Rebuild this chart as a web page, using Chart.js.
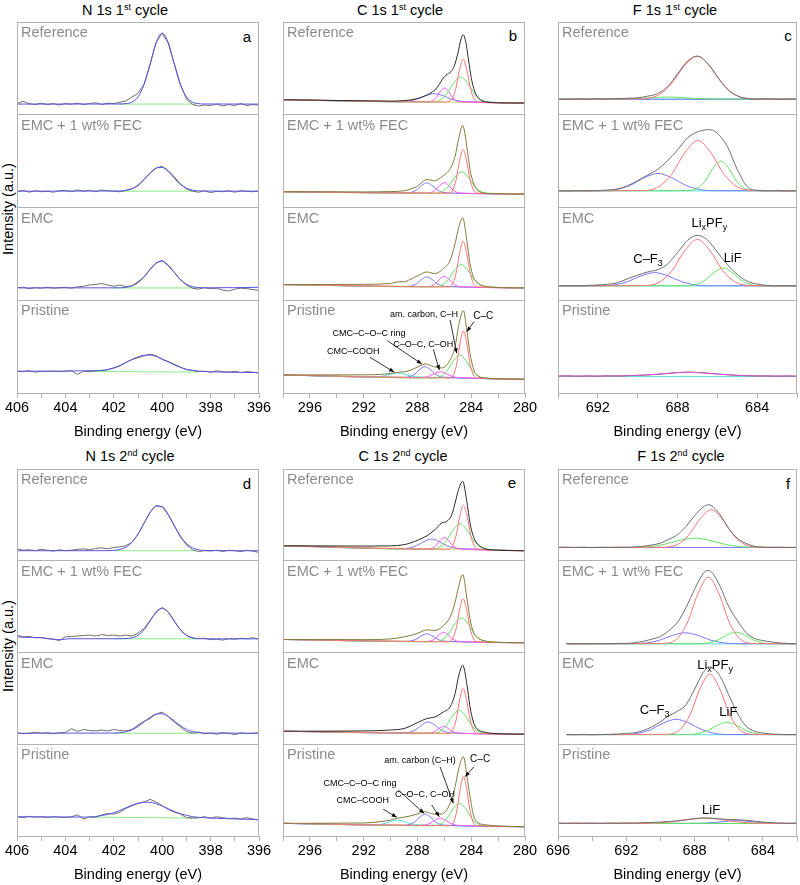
<!DOCTYPE html>
<html>
<head>
<meta charset="utf-8">
<script src="https://cdn.jsdelivr.net/npm/chart.js@4.4.0/dist/chart.umd.min.js"></script>
<style>
  html, body { margin: 0; background: #fff; overflow: hidden; }
  #fig { position: relative; width: 800px; height: 885px; overflow: hidden; font-family: "Liberation Sans", Arial, sans-serif; }
  .box { position: absolute; }
  .ttl { position: absolute; font-size: 14.5px; line-height: 17px; transform: translateX(-50%); white-space: nowrap; }
  .ttl sup { font-size: 0.62em; vertical-align: 0.55em; line-height: 0; }
  .let { position: absolute; font-size: 15px; line-height: 17px; transform: translate(-50%, -50%); }
  .ylab { position: absolute; font-size: 14.5px; transform: translate(-50%, -50%) rotate(-90deg); white-space: nowrap; }
</style>
</head>
<body>
<div id="fig">
  <div class="ttl" style="left:125px;top:2px">N 1s 1<sup>st</sup> cycle</div>
  <div class="ttl" style="left:400px;top:2px">C 1s 1<sup>st</sup> cycle</div>
  <div class="ttl" style="left:675px;top:2px">F 1s 1<sup>st</sup> cycle</div>
  <div class="ttl" style="left:130px;top:448px">N 1s 2<sup>nd</sup> cycle</div>
  <div class="ttl" style="left:403px;top:448px">C 1s 2<sup>nd</sup> cycle</div>
  <div class="ttl" style="left:681px;top:448px">F 1s 2<sup>nd</sup> cycle</div>
  <div class="let" style="left:247px;top:36px">a</div>
  <div class="let" style="left:513px;top:35px">b</div>
  <div class="let" style="left:788px;top:35px">c</div>
  <div class="let" style="left:247px;top:483px">d</div>
  <div class="let" style="left:512px;top:482px">e</div>
  <div class="let" style="left:788px;top:483px">f</div>
  <div class="ylab" style="left:8px;top:209px">Intensity (a.u.)</div>
  <div class="ylab" style="left:8px;top:646px">Intensity (a.u.)</div>
</div>
<script>
// stacked spectra, top to bottom
const subNames = ['Reference', 'EMC + 1 wt% FEC', 'EMC', 'Pristine'];

// N 1s raw data grid (eV)
const nX = [406, 405.75, 405.5, 405.25, 405, 404.75, 404.5, 404.25, 404, 403.75, 403.5, 403.25, 403, 402.75, 402.5, 402.25, 402, 401.75, 401.5, 401.25, 401, 400.75, 400.5, 400.25, 400, 399.75, 399.5, 399.25, 399, 398.75, 398.5, 398.25, 398, 397.75, 397.5, 397.25, 397, 396.75, 396.5, 396.25, 396];

// ---- panel a : N 1s 1st cycle ----
const aRaw = [
  [0.12,0.145,0.12,0.11,0.125,0.11,0.12,0.105,0.12,0.115,0.125,0.11,0.12,0.13,0.11,0.125,0.12,0.135,0.15,0.19,0.23,0.33,0.54,0.78,0.88,0.77,0.55,0.33,0.17,0.11,0.095,0.105,0.1,0.115,0.095,0.11,0.1,0.12,0.1,0.11,0.105],
  [0.17,0.185,0.165,0.18,0.17,0.175,0.165,0.18,0.185,0.17,0.19,0.175,0.185,0.17,0.19,0.18,0.175,0.17,0.185,0.2,0.235,0.3,0.37,0.425,0.445,0.4,0.33,0.255,0.2,0.175,0.165,0.18,0.16,0.175,0.17,0.18,0.165,0.18,0.175,0.17,0.18],
  [0.135,0.14,0.125,0.135,0.13,0.14,0.13,0.135,0.14,0.13,0.145,0.15,0.165,0.17,0.18,0.165,0.15,0.165,0.145,0.155,0.2,0.25,0.33,0.4,0.43,0.37,0.3,0.22,0.165,0.13,0.12,0.135,0.125,0.13,0.11,0.1,0.12,0.13,0.125,0.115,0.105],
  [0.235,0.23,0.24,0.225,0.235,0.23,0.235,0.23,0.235,0.24,0.2,0.235,0.23,0.24,0.245,0.25,0.27,0.29,0.33,0.36,0.38,0.4,0.42,0.4,0.36,0.34,0.31,0.28,0.25,0.245,0.23,0.235,0.225,0.24,0.23,0.225,0.235,0.22,0.23,0.225,0.215]
];
const aFit = [
  [[406,0.115],[401.75,0.116],[401.5,0.12],[401.25,0.136],[401,0.192],[400.75,0.325],[400.5,0.546],[400.25,0.778],[400,0.88],[399.75,0.778],[399.5,0.546],[399.25,0.325],[399,0.192],[398.75,0.136],[398.5,0.12],[398.25,0.116],[396,0.115]],
  [[406,0.176],[401.75,0.178],[401.5,0.185],[401.25,0.203],[401,0.241],[400.75,0.302],[400.5,0.374],[400.25,0.426],[400,0.432],[399.75,0.387],[399.5,0.316],[399.25,0.251],[399,0.209],[398.75,0.187],[398.5,0.179],[398.25,0.177],[396,0.176]],
  [[406,0.133],[401.75,0.134],[401.5,0.14],[401.25,0.155],[401,0.19],[400.75,0.253],[400.5,0.334],[400.25,0.403],[400,0.422],[399.75,0.38],[399.5,0.301],[399.25,0.225],[399,0.173],[398.75,0.147],[398.5,0.137],[398.25,0.134],[397,0.136],[396,0.14]],
  [[406,0.235],[402.5,0.242],[402.25,0.253],[402,0.271],[401.75,0.297],[401.5,0.328],[401.25,0.361],[401,0.39],[400.75,0.407],[400.5,0.409],[400.25,0.394],[400,0.367],[399.75,0.335],[399.5,0.303],[399.25,0.276],[399,0.256],[398.75,0.244],[398.5,0.236],[398,0.228],[396,0.22]]
];
const aBase = [
  [[401.8,0.115],[398.6,0.115]], [[401.7,0.176],[398.6,0.176]], [[402,0.133],[398.5,0.133]], [[403,0.232],[398.5,0.226]]
];

// ---- panel d : N 1s 2nd cycle ----
const dRaw = [
  [0.13,0.115,0.12,0.11,0.125,0.115,0.105,0.12,0.11,0.115,0.125,0.13,0.12,0.135,0.14,0.13,0.145,0.15,0.165,0.2,0.29,0.41,0.53,0.6,0.59,0.5,0.38,0.26,0.175,0.12,0.1,0.11,0.105,0.115,0.1,0.115,0.11,0.1,0.115,0.105,0.09],
  [0.19,0.17,0.175,0.16,0.165,0.15,0.145,0.13,0.17,0.175,0.18,0.185,0.19,0.18,0.195,0.185,0.19,0.18,0.19,0.18,0.21,0.26,0.35,0.44,0.49,0.44,0.34,0.25,0.185,0.16,0.15,0.155,0.14,0.145,0.135,0.15,0.145,0.155,0.15,0.16,0.145],
  [0.125,0.115,0.12,0.13,0.12,0.125,0.115,0.125,0.13,0.17,0.14,0.16,0.15,0.145,0.155,0.145,0.16,0.15,0.145,0.16,0.21,0.25,0.28,0.33,0.35,0.3,0.24,0.19,0.14,0.12,0.135,0.115,0.12,0.11,0.125,0.12,0.105,0.125,0.115,0.12,0.125],
  [0.21,0.2,0.215,0.205,0.21,0.2,0.21,0.205,0.2,0.21,0.23,0.185,0.21,0.205,0.23,0.245,0.24,0.26,0.3,0.33,0.355,0.37,0.4,0.37,0.33,0.29,0.26,0.24,0.2,0.195,0.2,0.21,0.195,0.21,0.2,0.19,0.195,0.185,0.2,0.185,0.175]
];
const dFit = [
  [[406,0.109],[402.25,0.11],[402,0.113],[401.75,0.123],[401.5,0.148],[401.25,0.201],[401,0.29],[400.75,0.409],[400.5,0.526],[400.25,0.596],[400,0.588],[399.75,0.504],[399.5,0.384],[399.25,0.27],[399,0.188],[398.75,0.142],[398.5,0.12],[398.25,0.112],[396,0.109]],
  [[406,0.17],[405.5,0.165],[405,0.16],[404.5,0.145],[404.2,0.14],[403.8,0.15],[403,0.15],[401.75,0.15],[401.5,0.152],[401.25,0.16],[401,0.187],[400.75,0.248],[400.5,0.343],[400.25,0.441],[400,0.483],[399.75,0.441],[399.5,0.343],[399.25,0.248],[399,0.187],[398.75,0.16],[398.5,0.152],[398.25,0.149],[396,0.149]],
  [[406,0.12],[402,0.122],[401.75,0.126],[401.5,0.136],[401.25,0.157],[401,0.194],[400.75,0.243],[400.5,0.294],[400.25,0.329],[400,0.332],[399.75,0.303],[399.5,0.254],[399.25,0.203],[399,0.163],[398.75,0.139],[398.5,0.127],[398.25,0.122],[396,0.12]],
  [[406,0.21],[403,0.206],[402.5,0.223],[402.25,0.235],[402,0.253],[401.75,0.278],[401.5,0.308],[401.25,0.336],[401,0.357],[400.75,0.369],[400.5,0.367],[400.25,0.352],[400,0.327],[399.75,0.297],[399.5,0.267],[399.25,0.243],[399,0.225],[398.75,0.211],[398.5,0.203],[398,0.195],[396,0.178]]
];
const dBase = [
  [[402,0.109],[398.6,0.109]], [[402,0.149],[398.5,0.149]], [[402,0.12],[398.5,0.12]], [[403,0.205],[398.5,0.196]]
];

// ---- panel b : C 1s 1st cycle ----
const bEnv = [
  [[280,0.126],[282,0.128],[282.5,0.132],[283,0.141],[283.25,0.155],[283.5,0.185],[283.75,0.255],[284,0.4],[284.2,0.59],[284.4,0.78],[284.6,0.862],[284.75,0.82],[285,0.66],[285.25,0.53],[285.5,0.465],[285.75,0.44],[286,0.41],[286.25,0.36],[286.5,0.3],[287,0.235],[287.5,0.2],[288,0.175],[288.5,0.16],[289,0.152],[290,0.147],[292,0.15],[298,0.162]],
  [[280,0.145],[282.5,0.15],[283.1,0.158],[283.59,0.194],[283.84,0.27],[284.09,0.41],[284.33,0.66],[284.63,0.884],[284.95,0.733],[285.2,0.55],[285.6,0.41],[285.95,0.356],[286.3,0.32],[286.5,0.3],[286.8,0.288],[287,0.295],[287.3,0.302],[287.6,0.28],[288,0.23],[288.5,0.2],[289,0.18],[290,0.172],[292,0.168],[298,0.17]],
  [[280,0.133],[282.5,0.142],[283.1,0.155],[283.59,0.198],[283.84,0.251],[284.09,0.395],[284.33,0.647],[284.63,0.89],[284.95,0.773],[285.2,0.611],[285.57,0.431],[286.07,0.341],[286.7,0.288],[287.3,0.305],[287.9,0.27],[288.55,0.223],[289,0.2],[289.5,0.198],[290,0.18],[292,0.172],[298,0.169]],
  [[280,0.148],[282,0.152],[282.85,0.16],[283.47,0.183],[283.8,0.248],[284.09,0.428],[284.33,0.679],[284.58,0.887],[284.95,0.715],[285.2,0.5],[285.57,0.356],[286.2,0.27],[286.8,0.285],[287.43,0.313],[288,0.28],[288.55,0.245],[289,0.228],[289.54,0.222],[290,0.21],[290.8,0.2],[292,0.196],[298,0.194]]
];
const bRed = [
  [[280,0.126],[283.43,0.137],[283.79,0.172],[284.06,0.286],[284.33,0.486],[284.6,0.6],[284.87,0.486],[285.14,0.286],[285.41,0.172],[285.77,0.137],[298,0.162]],
  [[280,0.145],[283.5,0.154],[283.84,0.19],[284.09,0.306],[284.35,0.509],[284.6,0.625],[284.86,0.509],[285.11,0.306],[285.37,0.19],[285.71,0.154],[298,0.17]],
  [[280,0.133],[283.5,0.144],[283.84,0.182],[284.09,0.303],[284.35,0.515],[284.6,0.636],[284.86,0.515],[285.11,0.303],[285.37,0.182],[285.71,0.144],[298,0.169]],
  [[280,0.148],[283.54,0.163],[283.86,0.201],[284.1,0.325],[284.34,0.544],[284.58,0.668],[284.82,0.544],[285.06,0.325],[285.3,0.201],[285.62,0.163],[298,0.194]]
];
const bGreen = [
  [[280,0.126],[282.51,0.136],[283.21,0.157],[283.73,0.223],[284.26,0.34],[284.78,0.406],[285.31,0.34],[285.83,0.223],[286.36,0.157],[287.06,0.136],[298,0.162]],
  [[280,0.145],[282.61,0.153],[283.26,0.171],[283.75,0.228],[284.23,0.328],[284.72,0.385],[285.21,0.328],[285.7,0.228],[286.18,0.171],[286.83,0.153],[298,0.17]],
  [[280,0.133],[282.64,0.143],[283.29,0.161],[283.78,0.221],[284.26,0.325],[284.75,0.385],[285.24,0.325],[285.72,0.221],[286.21,0.161],[286.86,0.143],[298,0.169]],
  [[280,0.148],[282.84,0.161],[283.46,0.18],[283.92,0.241],[284.39,0.349],[284.85,0.41],[285.32,0.349],[285.78,0.241],[286.25,0.18],[286.87,0.161],[298,0.194]]
];
const bMag = [
  [[280,0.126],[284.7,0.139],[285.1,0.15],[285.4,0.187],[285.7,0.251],[286,0.288],[286.3,0.251],[286.6,0.187],[286.9,0.15],[287.3,0.139],[298,0.162]],
  [[280,0.145],[284.64,0.155],[285.06,0.163],[285.37,0.191],[285.69,0.239],[286,0.267],[286.32,0.239],[286.63,0.191],[286.95,0.163],[287.37,0.155],[298,0.17]],
  [[280,0.133],[284.64,0.146],[285.06,0.154],[285.37,0.182],[285.69,0.231],[286,0.259],[286.32,0.231],[286.63,0.182],[286.95,0.154],[287.37,0.146],[298,0.169]],
  [[280,0.148],[284.68,0.165],[285.18,0.17],[285.55,0.186],[285.93,0.214],[286.3,0.23],[286.68,0.214],[287.05,0.186],[287.43,0.17],[287.93,0.165],[298,0.194]]
];
const bBlue = [
  [[280,0.126],[283.99,0.14],[284.84,0.147],[285.48,0.168],[286.11,0.206],[286.75,0.227],[287.39,0.206],[288.03,0.168],[288.66,0.147],[289.51,0.14],[298,0.162]],
  [[280,0.145],[285.68,0.157],[286.18,0.165],[286.55,0.192],[286.93,0.239],[287.3,0.266],[287.68,0.239],[288.05,0.192],[288.43,0.165],[288.93,0.157],[298,0.17]],
  [[280,0.133],[285.68,0.148],[286.18,0.155],[286.55,0.181],[286.93,0.226],[287.3,0.252],[287.68,0.226],[288.05,0.181],[288.43,0.155],[288.93,0.148],[298,0.169]],
  [[280,0.148],[285.81,0.169],[286.31,0.177],[286.68,0.206],[287.06,0.256],[287.43,0.284],[287.81,0.256],[288.18,0.206],[288.56,0.177],[289.06,0.169],[298,0.194]]
];
const bCyan = [null, null, null,
  [[280,0.148],[287.55,0.172],[288.15,0.176],[288.6,0.187],[289.05,0.206],[289.5,0.217],[289.95,0.206],[290.4,0.187],[290.85,0.176],[291.45,0.172],[298,0.194]]
];
const bBase = [
  [[280,0.126],[298,0.162]], [[280,0.145],[298,0.17]], [[280,0.133],[298,0.169]], [[280,0.148],[298,0.194]]
];

// ---- panel e : C 1s 2nd cycle ----
const eEnv = [
  [[280,0.109],[282.6,0.12],[283.1,0.138],[283.59,0.193],[283.84,0.265],[284.09,0.411],[284.33,0.647],[284.63,0.864],[284.95,0.774],[285.2,0.629],[285.45,0.501],[285.82,0.429],[286.2,0.411],[286.7,0.338],[287.3,0.272],[287.9,0.229],[288.55,0.193],[289,0.175],[290,0.162],[292,0.16],[298,0.163]],
  [[280,0.106],[282.5,0.115],[283.1,0.131],[283.59,0.167],[283.84,0.222],[284.09,0.367],[284.33,0.603],[284.63,0.85],[284.95,0.712],[285.2,0.548],[285.57,0.385],[286.07,0.294],[286.7,0.24],[287.3,0.247],[287.9,0.215],[288.55,0.185],[289,0.17],[290,0.148],[292,0.14],[298,0.142]],
  [[280,0.109],[282.5,0.12],[283.1,0.135],[283.59,0.171],[283.84,0.243],[284.09,0.407],[284.33,0.661],[284.63,0.861],[284.95,0.734],[285.2,0.552],[285.57,0.407],[286.07,0.352],[286.7,0.298],[287.3,0.28],[287.9,0.243],[288.55,0.196],[289,0.171],[290,0.155],[292,0.145],[298,0.142]],
  [[280,0.101],[282,0.11],[282.85,0.12],[283.47,0.145],[283.8,0.211],[284.09,0.428],[284.33,0.665],[284.58,0.865],[284.95,0.719],[285.2,0.537],[285.57,0.356],[286.2,0.24],[286.8,0.24],[287.43,0.265],[288,0.24],[288.55,0.218],[289,0.205],[289.54,0.193],[290,0.175],[290.78,0.156],[292,0.142],[298,0.138]]
];
const eRed = [
  [[280,0.109],[283.41,0.125],[283.77,0.161],[284.04,0.279],[284.31,0.485],[284.58,0.603],[284.85,0.485],[285.12,0.279],[285.39,0.161],[285.75,0.125],[298,0.163]],
  [[280,0.106],[283.5,0.117],[283.84,0.153],[284.09,0.268],[284.35,0.47],[284.6,0.585],[284.86,0.47],[285.11,0.268],[285.37,0.153],[285.71,0.117],[298,0.142]],
  [[280,0.109],[283.5,0.119],[283.84,0.156],[284.09,0.276],[284.35,0.487],[284.6,0.607],[284.86,0.487],[285.11,0.276],[285.37,0.156],[285.71,0.119],[298,0.142]],
  [[280,0.101],[283.54,0.113],[283.86,0.153],[284.1,0.284],[284.34,0.515],[284.58,0.646],[284.82,0.515],[285.06,0.284],[285.3,0.153],[285.62,0.113],[298,0.138]]
];
const eGreen = [
  [[280,0.109],[282.56,0.124],[283.26,0.145],[283.78,0.214],[284.31,0.334],[284.83,0.403],[285.36,0.334],[285.88,0.214],[286.41,0.145],[287.11,0.124],[298,0.163]],
  [[280,0.106],[282.61,0.116],[283.26,0.136],[283.75,0.2],[284.23,0.314],[284.72,0.378],[285.21,0.314],[285.7,0.2],[286.18,0.136],[286.83,0.116],[298,0.142]],
  [[280,0.109],[282.79,0.118],[283.44,0.137],[283.93,0.199],[284.41,0.308],[284.9,0.37],[285.39,0.308],[285.88,0.199],[286.36,0.137],[287.01,0.118],[298,0.142]],
  [[280,0.101],[282.87,0.111],[283.49,0.13],[283.95,0.19],[284.42,0.296],[284.88,0.356],[285.35,0.296],[285.81,0.19],[286.28,0.13],[286.9,0.111],[298,0.138]]
];
const eMag = [
  [[280,0.109],[284.7,0.128],[285.1,0.137],[285.4,0.168],[285.7,0.223],[286,0.254],[286.3,0.223],[286.6,0.168],[286.9,0.137],[287.3,0.128],[298,0.163]],
  [[280,0.106],[284.69,0.119],[285.11,0.126],[285.42,0.151],[285.74,0.196],[286.05,0.221],[286.37,0.196],[286.68,0.151],[287,0.126],[287.42,0.119],[298,0.142]],
  [[280,0.109],[284.75,0.12],[285.15,0.126],[285.45,0.145],[285.75,0.177],[286.05,0.196],[286.35,0.177],[286.65,0.145],[286.95,0.126],[287.35,0.12],[298,0.142]],
  [[280,0.101],[284.68,0.114],[285.18,0.12],[285.55,0.14],[285.93,0.174],[286.3,0.193],[286.68,0.174],[287.05,0.14],[287.43,0.12],[287.93,0.114],[298,0.138]]
];
const eBlue = [
  [[280,0.109],[284.5,0.131],[285.25,0.138],[285.82,0.164],[286.38,0.21],[286.94,0.236],[287.5,0.21],[288.07,0.164],[288.63,0.138],[289.38,0.131],[298,0.163]],
  [[280,0.106],[285.68,0.121],[286.18,0.128],[286.55,0.148],[286.93,0.184],[287.3,0.204],[287.68,0.184],[288.05,0.148],[288.43,0.128],[288.93,0.121],[298,0.142]],
  [[280,0.109],[285.25,0.123],[285.85,0.132],[286.3,0.161],[286.75,0.213],[287.2,0.243],[287.65,0.213],[288.1,0.161],[288.55,0.132],[289.15,0.123],[298,0.142]],
  [[280,0.101],[285.81,0.117],[286.31,0.126],[286.68,0.156],[287.06,0.21],[287.43,0.24],[287.81,0.21],[288.18,0.156],[288.56,0.126],[289.06,0.117],[298,0.138]]
];
const eCyan = [null, null, null,
  [[280,0.101],[287.55,0.12],[288.15,0.124],[288.6,0.138],[289.05,0.161],[289.5,0.174],[289.95,0.161],[290.4,0.138],[290.85,0.124],[291.45,0.12],[298,0.138]]
];
const eBase = [
  [[280,0.109],[298,0.163]], [[280,0.106],[298,0.142]], [[280,0.109],[298,0.142]], [[280,0.101],[298,0.138]]
];

// ---- panel c : F 1s 1st cycle ----
const cRaw = [
  [[694,0.17],[693.5,0.166],[693,0.171],[692.5,0.168],[692,0.172],[691.5,0.169],[691,0.174],[690.5,0.178],[690,0.183],[689.5,0.2],[689,0.228],[688.5,0.305],[688,0.44],[687.5,0.578],[687,0.633],[686.5,0.557],[686,0.41],[685.5,0.277],[685,0.204],[684.5,0.176],[684,0.168],[683.5,0.172],[683,0.166],[682.5,0.17],[682,0.168]],
  [[694,0.181],[693.5,0.178],[693,0.182],[692.5,0.179],[692,0.183],[691.5,0.188],[691,0.2],[690.5,0.235],[690,0.29],[689.5,0.35],[689,0.41],[688.5,0.505],[688,0.62],[687.5,0.75],[687,0.815],[686.75,0.83],[686.5,0.84],[686.25,0.835],[686,0.8],[685.5,0.66],[685,0.41],[684.5,0.226],[684,0.185],[683.5,0.18],[683,0.182],[682.5,0.178],[682,0.18]],
  [[694,0.155],[693.5,0.158],[693,0.154],[692.5,0.16],[692,0.165],[691.5,0.172],[691,0.19],[690.5,0.232],[690,0.27],[689.5,0.305],[689,0.33],[688.5,0.39],[688,0.515],[687.5,0.645],[687,0.7],[686.5,0.65],[686,0.52],[685.5,0.385],[685,0.28],[684.5,0.205],[684,0.175],[683.5,0.16],[683,0.155],[682.5,0.157],[682,0.154]],
  [[694,0.182],[693.5,0.185],[693,0.18],[692.5,0.184],[692,0.181],[691.5,0.186],[691,0.183],[690.5,0.188],[690,0.19],[689.5,0.195],[689,0.2],[688.5,0.21],[688,0.22],[687.5,0.226],[687,0.222],[686.5,0.215],[686,0.205],[685.5,0.198],[685,0.19],[684.5,0.187],[684,0.183],[683.5,0.185],[683,0.181],[682.5,0.184],[682,0.18]]
];
const cRed = [
  [[682,0.169],[684.13,0.171],[685.02,0.206],[685.69,0.319],[686.35,0.517],[687.02,0.63],[687.69,0.517],[688.36,0.319],[689.02,0.206],[689.91,0.171],[694,0.169]],
  [[682,0.18],[684.12,0.183],[685,0.223],[685.66,0.356],[686.32,0.589],[686.98,0.722],[687.64,0.589],[688.3,0.356],[688.96,0.223],[689.84,0.183],[694,0.18]],
  [[682,0.155],[684.24,0.158],[685.09,0.195],[685.73,0.318],[686.36,0.533],[687,0.655],[687.64,0.533],[688.28,0.318],[688.91,0.195],[689.76,0.158],[694,0.155]],
  null
];
const cBlue = [
  [[682,0.167],[694,0.167]],
  [[682,0.18],[685.99,0.181],[686.91,0.195],[687.6,0.241],[688.29,0.321],[688.98,0.367],[689.67,0.321],[690.36,0.241],[691.05,0.195],[691.97,0.181],[694,0.18]],
  [[682,0.155],[686.23,0.156],[687.13,0.166],[687.8,0.201],[688.48,0.263],[689.15,0.298],[689.83,0.263],[690.5,0.201],[691.18,0.166],[692.08,0.156],[694,0.155]],
  null
];
const cGreen = [
  [[682,0.169],[685.58,0.169],[686.48,0.171],[687.15,0.176],[687.83,0.186],[688.5,0.191],[689.18,0.186],[689.85,0.176],[690.53,0.171],[691.43,0.169],[694,0.169]],
  [[682,0.18],[684.1,0.182],[684.63,0.206],[685.03,0.284],[685.42,0.422],[685.82,0.5],[686.22,0.422],[686.62,0.284],[687.01,0.206],[687.54,0.182],[694,0.18]],
  [[682,0.155],[683.75,0.156],[684.35,0.171],[684.8,0.218],[685.25,0.301],[685.7,0.349],[686.15,0.301],[686.6,0.218],[687.05,0.171],[687.65,0.156],[694,0.155]],
  null
];
const cPink = [null, null, null,
  [[682,0.183],[683.26,0.183],[684.56,0.186],[685.53,0.196],[686.51,0.213],[687.48,0.223],[688.46,0.213],[689.43,0.196],[690.41,0.186],[691.71,0.183],[694,0.183]]
];
const cFlat = [
  [[682,0.168],[694,0.168]], [[682,0.179],[694,0.179]], [[682,0.155],[694,0.155]], [[682,0.177],[694,0.177]]
];

// ---- panel f : F 1s 2nd cycle ----
const fRaw = [
  [[696,0.145],[695.5,0.148],[695,0.143],[694.5,0.147],[694,0.142],[693.5,0.146],[693,0.144],[692.5,0.147],[692,0.145],[691.5,0.15],[691,0.158],[690.5,0.172],[690,0.192],[689.5,0.235],[689,0.285],[688.5,0.375],[688,0.49],[687.5,0.585],[687.2,0.61],[687,0.6],[686.5,0.5],[686,0.35],[685.5,0.245],[685,0.19],[684.5,0.158],[684,0.148],[683.5,0.145],[683,0.147],[682.5,0.143],[682,0.146]],
  [[695.5,0.097],[695,0.094],[694.5,0.097],[694,0.095],[693.5,0.098],[693,0.096],[692.5,0.099],[692,0.1],[691.5,0.106],[691,0.122],[690.5,0.145],[690,0.175],[689.5,0.24],[689,0.33],[688.5,0.49],[688,0.69],[687.5,0.86],[687.27,0.894],[687,0.875],[686.5,0.72],[686,0.5],[685.5,0.35],[685,0.22],[684.5,0.155],[684,0.13],[683.5,0.115],[683,0.104],[682.5,0.098],[682,0.096]],
  [[695.5,0.106],[695,0.104],[694.5,0.107],[694,0.103],[693.5,0.106],[693,0.108],[692.5,0.112],[692,0.118],[691.5,0.125],[691,0.15],[690.5,0.19],[690,0.245],[689.5,0.31],[689,0.36],[688.5,0.43],[688,0.6],[687.5,0.78],[687.13,0.843],[686.75,0.8],[686.5,0.74],[686,0.54],[685.5,0.34],[685,0.2],[684.5,0.143],[684,0.122],[683.5,0.112],[683,0.108],[682.5,0.105],[682,0.106]],
  [[696,0.14],[695.5,0.137],[695,0.141],[694.5,0.138],[694,0.14],[693.5,0.137],[693,0.141],[692.5,0.139],[692,0.142],[691.5,0.141],[691,0.145],[690.5,0.148],[690,0.152],[689.5,0.158],[689,0.165],[688.5,0.175],[688,0.188],[687.5,0.196],[687,0.194],[686.5,0.186],[686,0.18],[685.5,0.178],[685,0.172],[684.5,0.162],[684,0.152],[683.5,0.145],[683,0.14],[682.5,0.138],[682,0.14]]
];
const fRed = [
  [[682,0.145],[684.2,0.147],[685.07,0.178],[685.72,0.279],[686.38,0.455],[687.03,0.556],[687.68,0.455],[688.34,0.279],[688.99,0.178],[689.86,0.147],[696,0.145]],
  [[682,0.095],[684.56,0.099],[685.37,0.153],[685.97,0.331],[686.58,0.643],[687.19,0.821],[687.8,0.643],[688.41,0.331],[689.01,0.153],[689.82,0.099],[695.5,0.095]],
  [[682,0.105],[684.57,0.108],[685.35,0.158],[685.93,0.319],[686.52,0.602],[687.1,0.763],[687.69,0.602],[688.27,0.319],[688.86,0.158],[689.64,0.108],[695.5,0.105]],
  [[682,0.138],[683.52,0.138],[684.72,0.143],[685.62,0.157],[686.52,0.182],[687.42,0.196],[688.32,0.182],[689.22,0.157],[690.12,0.143],[691.32,0.138],[696,0.138]]
];
const fGreen = [
  [[682,0.145],[684.1,0.146],[685.3,0.153],[686.2,0.178],[687.1,0.222],[688,0.247],[688.9,0.222],[689.8,0.178],[690.7,0.153],[691.9,0.146],[696,0.145]],
  [[682,0.095],[683.31,0.096],[684.01,0.105],[684.53,0.136],[685.06,0.191],[685.58,0.222],[686.11,0.191],[686.63,0.136],[687.16,0.105],[687.86,0.096],[695.5,0.095]],
  [[682,0.105],[683.66,0.106],[684.41,0.116],[684.98,0.149],[685.54,0.207],[686.1,0.24],[686.66,0.207],[687.23,0.149],[687.79,0.116],[688.54,0.106],[695.5,0.105]],
  [[682,0.136],[696,0.136]]
];
const fBlue = [
  [[682,0.145],[696,0.145]],
  [[682,0.095],[685.3,0.096],[686.3,0.105],[687.05,0.134],[687.8,0.186],[688.55,0.215],[689.3,0.186],[690.05,0.134],[690.8,0.105],[691.8,0.096],[695.5,0.095]],
  [[682,0.105],[685.83,0.106],[686.83,0.118],[687.58,0.159],[688.33,0.231],[689.08,0.272],[689.83,0.231],[690.58,0.159],[691.33,0.118],[692.33,0.106],[695.5,0.105]],
  [[682,0.138],[682.56,0.138],[683.46,0.14],[684.13,0.147],[684.81,0.16],[685.48,0.167],[686.16,0.16],[686.83,0.147],[687.51,0.14],[688.41,0.138],[696,0.138]]
];
const fFlat = [
  null, [[682,0.094],[695.5,0.094]], [[682,0.104],[695.5,0.104]], [[682,0.137],[696,0.137]]
];

// peak labels (x in eV, y inside the sub plot 0..1)
const bNotes = [
  { sub: 3, x: 287.51, y: 0.841, t: [['am. carbon, C–H', 0]], size: 9, arrow: [285.57, 0.787, 285.08, 0.428] },
  { sub: 3, x: 283.1, y: 0.83, t: [['C–C', 0]], size: 10, arrow: [283.79, 0.769, 284.33, 0.661] },
  { sub: 3, x: 291.6, y: 0.644, t: [['CMC–C–O–C ring', 0]], size: 9, arrow: [290.24, 0.564, 287.68, 0.313] },
  { sub: 3, x: 287.56, y: 0.518, t: [['C–O–C, C–OH', 0]], size: 9, arrow: [286.82, 0.471, 286.37, 0.248] },
  { sub: 3, x: 292.77, y: 0.445, t: [['CMC–COOH', 0]], size: 9, arrow: [291.53, 0.385, 289.74, 0.226] }
];
const eNotes = [
  { sub: 3, x: 287.81, y: 0.828, t: [['am. carbon (C–H)', 0]], size: 9, arrow: [286.32, 0.755, 285.33, 0.356] },
  { sub: 3, x: 283.34, y: 0.836, t: [['C–C', 0]], size: 10, arrow: [283.79, 0.755, 284.46, 0.646] },
  { sub: 3, x: 292.27, y: 0.567, t: [['CMC–C–O–C ring', 0]], size: 9, arrow: [289.42, 0.501, 287.51, 0.247] },
  { sub: 3, x: 287.43, y: 0.447, t: [['C–O–C, C–OH', 0]], size: 9, arrow: [286.94, 0.338, 286.37, 0.21] },
  { sub: 3, x: 292.07, y: 0.392, t: [['CMC–COOH', 0]], size: 9, arrow: [290.54, 0.291, 289.54, 0.204] }
];
const cNotes = [
  { sub: 2, x: 686.4, y: 0.83, t: [['Li', 0], ['x', 1], ['PF', 0], ['y', 1]], size: 13 },
  { sub: 2, x: 689.48, y: 0.439, t: [['C–F', 0], ['3', 1]], size: 13 },
  { sub: 2, x: 685.23, y: 0.45, t: [['LiF', 0]], size: 13 }
];
const fNotes = [
  { sub: 2, x: 686.8, y: 0.861, t: [['Li', 0], ['x', 1], ['PF', 0], ['y', 1]], size: 13 },
  { sub: 2, x: 690.34, y: 0.37, t: [['C–F', 0], ['3', 1]], size: 13 },
  { sub: 2, x: 686.02, y: 0.352, t: [['LiF', 0]], size: 13 },
  { sub: 3, x: 687.03, y: 0.276, t: [['LiF', 0]], size: 13 }
];

const family = '"Liberation Sans", Arial, sans-serif';
Chart.defaults.font.family = family;
const boxColor = '#b2b2b2';
const col = {
  raw: '#6e6e6e', nfit: '#5656e2', nbase: '#88ee88',
  red: '#ff7474', green: '#62e262', mag: '#ff55ff', blue: '#7878ff', cyan: '#55dde0', yellow: '#e0e060',
  black: '#2a2a2a', olive: '#857a3c', pink: '#e050d0'
};

function ds(pts, i, color, smooth) {
  return {
    data: pts.slice().sort((p, q) => p[0] - q[0]).map(p => ({ x: p[0], y: 3 - i + p[1] })),
    borderColor: color, borderWidth: 1, pointRadius: 0, fill: false,
    tension: 0, cubicInterpolationMode: smooth ? 'monotone' : 'default'
  };
}

function drawParts(ctx, parts, cx, cy, size) {
  const fonts = parts.map(p => (p[1] ? Math.round(size * 0.7) : size) + 'px ' + family);
  let w = 0;
  parts.forEach((p, k) => { ctx.font = fonts[k]; w += ctx.measureText(p[0]).width; });
  let xx = cx - w / 2;
  parts.forEach((p, k) => {
    ctx.font = fonts[k];
    ctx.fillText(p[0], xx, cy + (p[1] ? size * 0.32 : 0));
    xx += ctx.measureText(p[0]).width;
  });
}

const deco = {
  id: 'deco',
  afterDatasetsDraw(chart, args, o) {
    const { ctx, chartArea: a, scales: { x, y } } = chart;
    ctx.save();
    ctx.strokeStyle = boxColor;
    ctx.lineWidth = 1;
    ctx.beginPath();
    ctx.moveTo(Math.round(a.left) + 0.5, a.top); ctx.lineTo(Math.round(a.left) + 0.5, a.bottom);
    ctx.moveTo(Math.round(a.right) - 0.5, a.top); ctx.lineTo(Math.round(a.right) - 0.5, a.bottom);
    ctx.stroke();
    ctx.textAlign = 'left';
    ctx.textBaseline = 'middle';
    ctx.fillStyle = '#8c8c8c';
    ctx.font = '14.5px ' + family;
    subNames.forEach((n, i) => ctx.fillText(n, a.left + 4, y.getPixelForValue(4 - i) + 11));
    ctx.fillStyle = '#000';
    ctx.strokeStyle = '#000';
    ctx.lineWidth = 0.8;
    (o.notes || []).forEach(n => {
      const py = v => y.getPixelForValue(3 - n.sub + v);
      if (n.arrow) {
        const x0 = x.getPixelForValue(n.arrow[0]), y0 = py(n.arrow[1]);
        const x1 = x.getPixelForValue(n.arrow[2]), y1 = py(n.arrow[3]);
        const ang = Math.atan2(y1 - y0, x1 - x0);
        ctx.beginPath(); ctx.moveTo(x0, y0); ctx.lineTo(x1, y1); ctx.stroke();
        ctx.beginPath();
        ctx.moveTo(x1, y1);
        ctx.lineTo(x1 - 5 * Math.cos(ang) + 2 * Math.sin(ang), y1 - 5 * Math.sin(ang) - 2 * Math.cos(ang));
        ctx.lineTo(x1 - 5 * Math.cos(ang) - 2 * Math.sin(ang), y1 - 5 * Math.sin(ang) + 2 * Math.cos(ang));
        ctx.closePath(); ctx.fill();
      }
      drawParts(ctx, n.t, x.getPixelForValue(n.x), py(n.y), n.size);
    });
    ctx.restore();
  }
};

const fig = document.getElementById('fig');

function panel(p) {
  const wrap = document.createElement('div');
  wrap.className = 'box';
  wrap.style.left = (p.left - 16) + 'px';
  wrap.style.top = p.top + 'px';
  wrap.style.width = (p.w + 16 + p.padR) + 'px';
  wrap.style.height = (p.h + 56) + 'px';
  const cv = document.createElement('canvas');
  wrap.appendChild(cv);
  fig.appendChild(wrap);
  const datasets = [];
  p.subs.forEach((list, i) => list.forEach(s => {
    if (s.pts) datasets.push(ds(s.pts, i, s.color, s.smooth));
  }));
  new Chart(cv, {
    type: 'line',
    data: { datasets },
    plugins: [deco],
    options: {
      responsive: true, maintainAspectRatio: false, animation: false, events: [],
      devicePixelRatio: 1,
      layout: { padding: { left: 16, right: p.padR, top: 0, bottom: 0 } },
      plugins: { legend: { display: false }, tooltip: { enabled: false }, deco: { notes: p.notes } },
      scales: {
        x: {
          type: 'linear', min: p.min, max: p.max, reverse: true,
          ticks: {
            stepSize: p.step, autoSkip: false, maxRotation: 0, padding: 1, color: '#000',
            font: { size: 14.5 }, callback: v => p.major(v) ? String(v) : ''
          },
          grid: { display: true, drawOnChartArea: false, drawTicks: true, tickLength: 5, color: boxColor },
          border: { display: true, color: boxColor },
          title: { display: true, text: 'Binding energy (eV)', color: '#000', font: { size: 14.5 }, padding: { top: 0, bottom: 8 } },
          afterFit: s => { s.height = 56; }
        },
        y: {
          min: 0, max: 4,
          ticks: { display: false, stepSize: 1 },
          grid: { color: boxColor, drawTicks: false },
          border: { display: false }
        }
      }
    }
  });
}

function nSubs(raw, fit, base) {
  return [0, 1, 2, 3].map(i => [
    { pts: fit[i], color: col.nfit, smooth: true },
    { pts: raw[i].map((v, k) => [nX[k], v]), color: col.raw, smooth: false },
    { pts: base[i], color: col.nbase, smooth: false }
  ]);
}
function cSubs(env, envCol, red, green, mag, blue, cyan, base) {
  return [0, 1, 2, 3].map(i => [
    { pts: env[i], color: envCol[i], smooth: true },
    { pts: red[i], color: col.red, smooth: true },
    { pts: green[i], color: col.green, smooth: true },
    { pts: mag[i], color: col.mag, smooth: true },
    { pts: blue[i], color: col.blue, smooth: true },
    { pts: cyan[i], color: col.cyan, smooth: true },
    { pts: base[i], color: col.yellow, smooth: false }
  ]);
}
function fSubs(raw, red, green, blue, flat, pink) {
  return [0, 1, 2, 3].map(i => [
    { pts: pink ? pink[i] : null, color: col.pink, smooth: true },
    { pts: raw[i], color: col.raw, smooth: true },
    { pts: red[i], color: col.red, smooth: true },
    { pts: green[i], color: col.green, smooth: true },
    { pts: blue[i], color: col.blue, smooth: true },
    { pts: flat[i], color: col.cyan, smooth: false }
  ]);
}

const evenN = v => v % 2 === 0;
const everyC = v => (v - 280) % 4 === 0;
const everyF = v => (v - 684) % 4 === 0;

panel({ left: 17, top: 22, w: 242, h: 371, padR: 14, min: 396, max: 406, step: 1, major: evenN, subs: nSubs(aRaw, aFit, aBase) });
panel({ left: 283, top: 22, w: 242, h: 371, padR: 14, min: 280, max: 298, step: 2, major: everyC, notes: bNotes,
  subs: cSubs(bEnv, [col.black, col.olive, col.olive, col.olive], bRed, bGreen, bMag, bBlue, bCyan, bBase) });
panel({ left: 558, top: 22, w: 239, h: 371, padR: 2, min: 682, max: 694, step: 2, major: everyF, notes: cNotes,
  subs: fSubs(cRaw, cRed, cGreen, cBlue, cFlat, cPink) });
panel({ left: 17, top: 469, w: 242, h: 367, padR: 14, min: 396, max: 406, step: 1, major: evenN, subs: nSubs(dRaw, dFit, dBase) });
panel({ left: 283, top: 469, w: 242, h: 367, padR: 14, min: 280, max: 298, step: 2, major: everyC, notes: eNotes,
  subs: cSubs(eEnv, [col.black, col.olive, col.black, col.olive], eRed, eGreen, eMag, eBlue, eCyan, eBase) });
panel({ left: 558, top: 469, w: 239, h: 367, padR: 2, min: 682, max: 696, step: 2, major: everyF, notes: fNotes,
  subs: fSubs(fRaw, fRed, fGreen, fBlue, fFlat, null) });
</script>
</body>
</html>
